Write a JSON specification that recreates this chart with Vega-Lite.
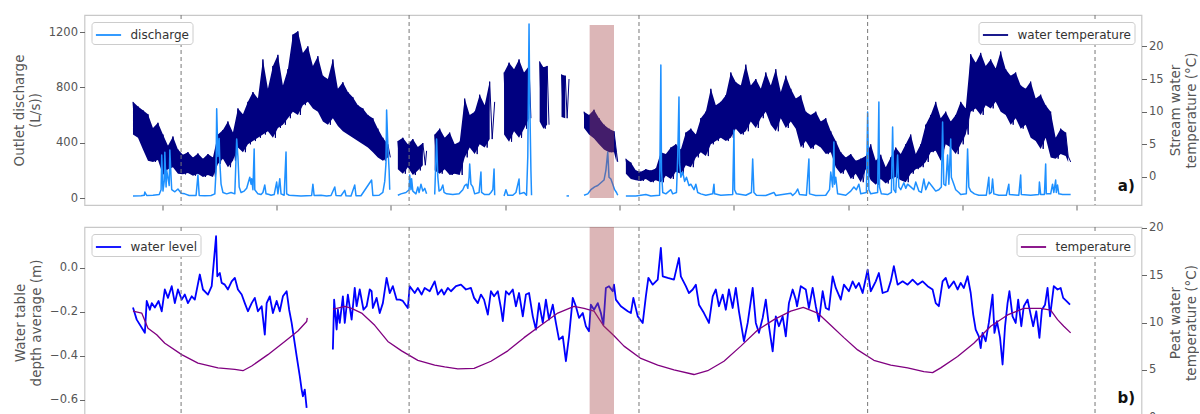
{
"$schema": "https://vega.github.io/schema/vega-lite/v6.json",
"background": "white",
"padding": {"top": 13, "left": 11.5, "right": 0, "bottom": 0},
"config": {
  "font": "DejaVu Sans",
  "view": {"stroke": "#c8c8c8", "strokeWidth": 1.2},
  "line": {"strokeJoin": "round", "strokeCap": "butt"},
  "axis": {"grid": false, "domain": false, "labelFont": "DejaVu Sans", "labelFontSize": 11.5, "labelColor": "#555", "titleFont": "DejaVu Sans", "titleFontSize": 13.5, "titleFontWeight": "normal", "titleColor": "#555", "tickColor": "#666", "tickSize": 5, "labelPadding": 2, "titlePadding": 6, "titleLineHeight": 16, "labelOverlap": false, "labelFlush": false},
  "legend": {"offset": 7, "fillColor": "white", "strokeColor": "#cccccc", "padding": 3, "cornerRadius": 3, "labelFont": "DejaVu Sans", "labelFontSize": 12, "labelColor": "#333", "symbolType": "M-1.4,0H1.4", "symbolSize": 324, "symbolStrokeWidth": 1.8, "symbolOffset": 4, "labelOffset": 12}
},
"datasets": {
"wt": [
{"s":1,"t":-48,"v":11.5},{"s":1,"t":-44,"v":6.5},{"s":1,"t":-40,"v":10.8},{"s":1,"t":-36,"v":6},{"s":1,"t":-32,"v":10.2},{"s":1,"t":-28,"v":4.2},{"s":1,"t":-24,"v":9.6},{"s":1,"t":-20,"v":2.5},{"s":1,"t":-16,"v":7.5},{"s":1,"t":-12,"v":2.3},{"s":1,"t":-8,"v":8.3},{"s":1,"t":-4,"v":2.6},{"s":1,"t":0,"v":6.5},{"s":1,"t":4,"v":0.3},{"s":1,"t":8,"v":4.8},{"s":1,"t":12,"v":1.2},{"s":1,"t":16,"v":6.2},{"s":1,"t":20,"v":1.5},{"s":1,"t":24,"v":4.2},{"s":1,"t":28,"v":0.5},{"s":1,"t":32,"v":3.4},{"s":1,"t":36,"v":0.4},{"s":1,"t":40,"v":3.8},{"s":1,"t":44,"v":0.6},{"s":1,"t":48,"v":3.0},{"s":1,"t":52,"v":0.2},{"s":1,"t":56,"v":3.6},{"s":1,"t":60,"v":0.5},{"s":1,"t":64,"v":2.8},{"s":1,"t":68,"v":0},{"s":1,"t":72,"v":3.5},{"s":1,"t":76,"v":0.3},{"s":1,"t":80,"v":3.0},{"s":1,"t":84,"v":0},{"s":1,"t":88,"v":6.5},{"s":1,"t":92,"v":2},{"s":1,"t":96,"v":7.2},{"s":1,"t":100,"v":2.8},{"s":1,"t":104,"v":8.5},{"s":1,"t":108,"v":1.5},{"s":1,"t":112,"v":6.8},{"s":1,"t":116,"v":2.5},{"s":1,"t":120,"v":10.5},{"s":1,"t":124,"v":4.5},{"s":1,"t":128,"v":9.6},{"s":1,"t":132,"v":3.8},{"s":1,"t":136,"v":11.5},{"s":1,"t":140,"v":5},{"s":1,"t":144,"v":13},{"s":1,"t":148,"v":5.5},{"s":1,"t":152,"v":12},{"s":1,"t":156,"v":6},{"s":1,"t":160,"v":18},{"s":1,"t":164,"v":6.5},{"s":1,"t":168,"v":13.5},{"s":1,"t":172,"v":7},{"s":1,"t":176,"v":17},{"s":1,"t":180,"v":6},{"s":1,"t":184,"v":18.7},{"s":1,"t":188,"v":7.5},{"s":1,"t":192,"v":14},{"s":1,"t":196,"v":8},{"s":1,"t":200,"v":16.5},{"s":1,"t":204,"v":9},{"s":1,"t":208,"v":21.8},{"s":1,"t":212,"v":10},{"s":1,"t":216,"v":22.3},{"s":1,"t":220,"v":9.5},{"s":1,"t":224,"v":19},{"s":1,"t":228,"v":11},{"s":1,"t":232,"v":20},{"s":1,"t":236,"v":11.5},{"s":1,"t":240,"v":17},{"s":1,"t":244,"v":10.5},{"s":1,"t":248,"v":18.5},{"s":1,"t":252,"v":10},{"s":1,"t":256,"v":15.5},{"s":1,"t":260,"v":8.5},{"s":1,"t":264,"v":15},{"s":1,"t":268,"v":8},{"s":1,"t":272,"v":18},{"s":1,"t":276,"v":9},{"s":1,"t":280,"v":13.5},{"s":1,"t":284,"v":7.8},{"s":1,"t":288,"v":14.5},{"s":1,"t":292,"v":7},{"s":1,"t":296,"v":13},{"s":1,"t":300,"v":6.5},{"s":1,"t":304,"v":12.2},{"s":1,"t":308,"v":6},{"s":1,"t":312,"v":11},{"s":1,"t":316,"v":5.5},{"s":1,"t":320,"v":10.5},{"s":1,"t":324,"v":5},{"s":1,"t":328,"v":9.5},{"s":1,"t":332,"v":4.5},{"s":1,"t":336,"v":9},{"s":1,"t":340,"v":3.8},{"s":1,"t":344,"v":7.4},{"s":1,"t":348,"v":3},{"s":1,"t":352,"v":6},{"s":1,"t":356,"v":2.5},{"s":1,"t":360,"v":5},{"s":1,"t":364,"v":3},
{"s":2,"t":376,"v":5.5},{"s":2,"t":380,"v":1.2},{"s":2,"t":384,"v":6},{"s":2,"t":388,"v":0.5},{"s":2,"t":392,"v":5},{"s":2,"t":396,"v":1.5},{"s":2,"t":400,"v":5.8},{"s":2,"t":404,"v":0.3},{"s":2,"t":408,"v":4.6},{"s":2,"t":412,"v":1},{"s":2,"t":416,"v":5.2},{"s":2,"t":420,"v":1.8},{"s":2,"t":422,"v":4},
{"s":3,"t":435,"v":6.5},{"s":3,"t":439,"v":1},{"s":3,"t":443,"v":7.4},{"s":3,"t":447,"v":0.5},{"s":3,"t":451,"v":6},{"s":3,"t":455,"v":1.2},{"s":3,"t":459,"v":6.8},{"s":3,"t":463,"v":0.3},{"s":3,"t":467,"v":5},{"s":3,"t":471,"v":0.5},{"s":3,"t":475,"v":5.4},{"s":3,"t":479,"v":0.3},{"s":3,"t":483,"v":12},{"s":3,"t":487,"v":3},{"s":3,"t":491,"v":9.5},{"s":3,"t":495,"v":4.5},{"s":3,"t":499,"v":10},{"s":3,"t":503,"v":3.5},{"s":3,"t":507,"v":12.6},{"s":3,"t":511,"v":5},{"s":3,"t":515,"v":11},{"s":3,"t":519,"v":4.5},{"s":3,"t":523,"v":14.6},{"s":3,"t":527,"v":5.8},{"s":3,"t":531,"v":11.5},
{"s":4,"t":546,"v":16},{"s":4,"t":550,"v":6.5},{"s":4,"t":554,"v":17.5},{"s":4,"t":558,"v":5.4},{"s":4,"t":562,"v":16.5},{"s":4,"t":566,"v":7},{"s":4,"t":570,"v":18},{"s":4,"t":574,"v":6},{"s":4,"t":578,"v":16},{"s":4,"t":582,"v":7.4},{"s":4,"t":586,"v":17},{"s":4,"t":589,"v":9},
{"s":5,"t":603,"v":17.7},{"s":5,"t":606,"v":8.5},{"s":5,"t":609,"v":16.8},{"s":5,"t":612,"v":7.4},{"s":5,"t":615,"v":17},{"s":5,"t":618,"v":8},
{"s":6,"t":638,"v":15.7},{"s":6,"t":641,"v":9.2},{"s":6,"t":644,"v":15.5},{"s":6,"t":647,"v":9},{"s":6,"t":650,"v":15},
{"s":7,"t":674,"v":10},{"s":7,"t":678,"v":7.5},{"s":7,"t":682,"v":9.5},{"s":7,"t":686,"v":6.5},{"s":7,"t":690,"v":10.3},{"s":7,"t":694,"v":5.9},{"s":7,"t":698,"v":9},{"s":7,"t":702,"v":5},{"s":7,"t":706,"v":8},{"s":7,"t":710,"v":4.2},{"s":7,"t":714,"v":7.4},{"s":7,"t":718,"v":3.8},{"s":7,"t":722,"v":7},{"s":7,"t":726,"v":3.8},{"s":7,"t":728,"v":2.3},
{"s":8,"t":741,"v":2.8},{"s":8,"t":745,"v":0.5},{"s":8,"t":749,"v":2.2},{"s":8,"t":753,"v":-0.3},{"s":8,"t":757,"v":1.0},{"s":8,"t":761,"v":-0.5},{"s":8,"t":765,"v":0.8},{"s":8,"t":769,"v":-0.6},{"s":8,"t":773,"v":1.2},{"s":8,"t":777,"v":-0.3},{"s":8,"t":781,"v":1.0},{"s":8,"t":785,"v":-0.8},{"s":8,"t":789,"v":1.3},{"s":8,"t":793,"v":-0.5},{"s":8,"t":797,"v":3.8},{"s":8,"t":801,"v":-0.8},{"s":8,"t":805,"v":3.5},{"s":8,"t":809,"v":0.2},{"s":8,"t":813,"v":4.5},{"s":8,"t":817,"v":-0.3},{"s":8,"t":821,"v":5},{"s":8,"t":825,"v":0.8},{"s":8,"t":829,"v":4.2},{"s":8,"t":833,"v":0.5},{"s":8,"t":837,"v":6.8},{"s":8,"t":841,"v":1.8},{"s":8,"t":845,"v":7.4},{"s":8,"t":849,"v":1.5},{"s":8,"t":853,"v":6.5},{"s":8,"t":857,"v":3},{"s":8,"t":861,"v":9},{"s":8,"t":865,"v":3.8},{"s":8,"t":869,"v":10},{"s":8,"t":873,"v":3.2},{"s":8,"t":877,"v":13.5},{"s":8,"t":881,"v":5},{"s":8,"t":885,"v":11},{"s":8,"t":889,"v":5.5},{"s":8,"t":893,"v":11.5},{"s":8,"t":897,"v":6},{"s":8,"t":901,"v":12.5},{"s":8,"t":905,"v":5.5},{"s":8,"t":909,"v":16},{"s":8,"t":913,"v":6},{"s":8,"t":917,"v":14.5},{"s":8,"t":921,"v":7.4},{"s":8,"t":925,"v":14},{"s":8,"t":929,"v":6.5},{"s":8,"t":933,"v":17.2},{"s":8,"t":937,"v":7},{"s":8,"t":941,"v":14},{"s":8,"t":945,"v":8.5},{"s":8,"t":949,"v":15},{"s":8,"t":953,"v":7.5},{"s":8,"t":957,"v":13.5},{"s":8,"t":961,"v":9},{"s":8,"t":965,"v":16},{"s":8,"t":969,"v":10},{"s":8,"t":973,"v":14},{"s":8,"t":977,"v":8},{"s":8,"t":981,"v":16.5},{"s":8,"t":985,"v":7},{"s":8,"t":989,"v":13},{"s":8,"t":993,"v":9},{"s":8,"t":997,"v":15.5},{"s":8,"t":1001,"v":7.5},{"s":8,"t":1005,"v":13.5},{"s":8,"t":1009,"v":8.5},{"s":8,"t":1013,"v":12},{"s":8,"t":1017,"v":7.4},{"s":8,"t":1021,"v":12.5},{"s":8,"t":1025,"v":4.5},{"s":8,"t":1029,"v":10},{"s":8,"t":1033,"v":5.5},{"s":8,"t":1037,"v":9.5},{"s":8,"t":1041,"v":4.3},{"s":8,"t":1045,"v":10},{"s":8,"t":1049,"v":5},{"s":8,"t":1053,"v":8.5},{"s":8,"t":1057,"v":4.5},{"s":8,"t":1061,"v":9},{"s":8,"t":1065,"v":3.5},{"s":8,"t":1069,"v":7},{"s":8,"t":1073,"v":3.8},{"s":8,"t":1077,"v":5.5},{"s":8,"t":1081,"v":1.5},{"s":8,"t":1085,"v":3.8},{"s":8,"t":1089,"v":0.5},{"s":8,"t":1093,"v":3},{"s":8,"t":1097,"v":1.2},{"s":8,"t":1101,"v":3.5},{"s":8,"t":1105,"v":-0.3},{"s":8,"t":1109,"v":2.5},{"s":8,"t":1113,"v":0.5},{"s":8,"t":1117,"v":2.8},{"s":8,"t":1121,"v":-0.8},{"s":8,"t":1125,"v":3.2},{"s":8,"t":1129,"v":1.2},{"s":8,"t":1133,"v":5},{"s":8,"t":1137,"v":-0.5},{"s":8,"t":1141,"v":2.5},{"s":8,"t":1145,"v":-1.2},{"s":8,"t":1149,"v":3.4},{"s":8,"t":1153,"v":-0.3},{"s":8,"t":1157,"v":1.5},{"s":8,"t":1161,"v":-1},{"s":8,"t":1165,"v":3},{"s":8,"t":1169,"v":-0.3},{"s":8,"t":1173,"v":4.5},{"s":8,"t":1177,"v":0},{"s":8,"t":1181,"v":3.5},{"s":8,"t":1185,"v":-0.5},{"s":8,"t":1189,"v":5},{"s":8,"t":1193,"v":-0.8},{"s":8,"t":1197,"v":6.5},{"s":8,"t":1201,"v":0.5},{"s":8,"t":1205,"v":3.5},{"s":8,"t":1209,"v":1.2},{"s":8,"t":1213,"v":5},{"s":8,"t":1217,"v":1.5},{"s":8,"t":1221,"v":8},{"s":8,"t":1225,"v":2.3},{"s":8,"t":1229,"v":9.5},{"s":8,"t":1233,"v":3.8},{"s":8,"t":1237,"v":11.5},{"s":8,"t":1241,"v":4},{"s":8,"t":1245,"v":9},{"s":8,"t":1249,"v":2.5},{"s":8,"t":1253,"v":10},{"s":8,"t":1257,"v":5},{"s":8,"t":1261,"v":8.5},{"s":8,"t":1265,"v":4.5},{"s":8,"t":1269,"v":9.5},{"s":8,"t":1273,"v":3.5},{"s":8,"t":1277,"v":11.5},{"s":8,"t":1281,"v":5},{"s":8,"t":1285,"v":10.5},{"s":8,"t":1289,"v":6.5},{"s":8,"t":1293,"v":18.8},{"s":8,"t":1297,"v":10},{"s":8,"t":1301,"v":17.5},{"s":8,"t":1305,"v":10.5},{"s":8,"t":1309,"v":19},{"s":8,"t":1313,"v":9.5},{"s":8,"t":1317,"v":17},{"s":8,"t":1321,"v":11},{"s":8,"t":1325,"v":18},{"s":8,"t":1329,"v":10.5},{"s":8,"t":1333,"v":16.6},{"s":8,"t":1337,"v":11.5},{"s":8,"t":1341,"v":19.2},{"s":8,"t":1345,"v":10},{"s":8,"t":1349,"v":16.5},{"s":8,"t":1353,"v":9.5},{"s":8,"t":1357,"v":15.5},{"s":8,"t":1361,"v":8},{"s":8,"t":1365,"v":16},{"s":8,"t":1369,"v":9},{"s":8,"t":1373,"v":14},{"s":8,"t":1377,"v":7.4},{"s":8,"t":1381,"v":13.5},{"s":8,"t":1385,"v":8},{"s":8,"t":1389,"v":14.6},{"s":8,"t":1393,"v":6},{"s":8,"t":1397,"v":12},{"s":8,"t":1401,"v":5.5},{"s":8,"t":1405,"v":12.6},{"s":8,"t":1409,"v":4.3},{"s":8,"t":1413,"v":11},{"s":8,"t":1417,"v":6},{"s":8,"t":1421,"v":10},{"s":8,"t":1425,"v":3},{"s":8,"t":1429,"v":6},{"s":8,"t":1433,"v":2.8},{"s":8,"t":1437,"v":7.4},{"s":8,"t":1441,"v":3.5},{"s":8,"t":1445,"v":6.8},{"s":8,"t":1449,"v":3.2},{"s":8,"t":1453,"v":2.3}
],
"q": [
{"s":1,"t":-48,"v":14},{"s":1,"t":-35,"v":16},{"s":1,"t":-30,"v":20},{"s":1,"t":-29,"v":43},{"s":1,"t":-26,"v":18},{"s":1,"t":-16,"v":20},{"s":1,"t":-6,"v":25},{"s":1,"t":-3,"v":60},{"s":1,"t":-2,"v":310},{"s":1,"t":0,"v":50},{"s":1,"t":2,"v":120},{"s":1,"t":3,"v":330},{"s":1,"t":5,"v":80},{"s":1,"t":6,"v":200},{"s":1,"t":10,"v":90},{"s":1,"t":11,"v":347},{"s":1,"t":13,"v":150},{"s":1,"t":14,"v":60},{"s":1,"t":19,"v":45},{"s":1,"t":24,"v":65},{"s":1,"t":29,"v":35},{"s":1,"t":35,"v":30},{"s":1,"t":42,"v":18},{"s":1,"t":53,"v":18},{"s":1,"t":56,"v":166},{"s":1,"t":58,"v":18},{"s":1,"t":67,"v":16},{"s":1,"t":77,"v":18},{"s":1,"t":83,"v":30},{"s":1,"t":85,"v":200},{"s":1,"t":86,"v":645},{"s":1,"t":88,"v":300},{"s":1,"t":90,"v":430},{"s":1,"t":91,"v":260},{"s":1,"t":93,"v":100},{"s":1,"t":96,"v":40},{"s":1,"t":102,"v":30},{"s":1,"t":109,"v":40},{"s":1,"t":115,"v":30},{"s":1,"t":118,"v":427},{"s":1,"t":120,"v":300},{"s":1,"t":122,"v":80},{"s":1,"t":125,"v":40},{"s":1,"t":130,"v":50},{"s":1,"t":134,"v":70},{"s":1,"t":139,"v":150},{"s":1,"t":141,"v":100},{"s":1,"t":142,"v":140},{"s":1,"t":144,"v":60},{"s":1,"t":146,"v":355},{"s":1,"t":147,"v":60},{"s":1,"t":152,"v":30},{"s":1,"t":157,"v":25},{"s":1,"t":160,"v":40},{"s":1,"t":163,"v":94},{"s":1,"t":165,"v":30},{"s":1,"t":170,"v":25},{"s":1,"t":173,"v":20},{"s":1,"t":178,"v":25},{"s":1,"t":182,"v":115},{"s":1,"t":184,"v":30},{"s":1,"t":187,"v":140},{"s":1,"t":189,"v":30},{"s":1,"t":194,"v":20},{"s":1,"t":197,"v":332},{"s":1,"t":198,"v":30},{"s":1,"t":202,"v":20},{"s":1,"t":221,"v":15},{"s":1,"t":238,"v":18},{"s":1,"t":240,"v":100},{"s":1,"t":242,"v":18},{"s":1,"t":253,"v":20},{"s":1,"t":262,"v":15},{"s":1,"t":269,"v":18},{"s":1,"t":275,"v":80},{"s":1,"t":277,"v":18},{"s":1,"t":285,"v":16},{"s":1,"t":291,"v":55},{"s":1,"t":293,"v":16},{"s":1,"t":301,"v":15},{"s":1,"t":307,"v":94},{"s":1,"t":309,"v":16},{"s":1,"t":317,"v":16},{"s":1,"t":334,"v":130},{"s":1,"t":336,"v":18},{"s":1,"t":346,"v":20},{"s":1,"t":352,"v":40},{"s":1,"t":355,"v":120},{"s":1,"t":357,"v":250},{"s":1,"t":358,"v":636},{"s":1,"t":360,"v":380},{"s":1,"t":362,"v":200},{"s":1,"t":363,"v":60},
{"s":2,"t":376,"v":20},{"s":2,"t":381,"v":30},{"s":2,"t":389,"v":40},{"s":2,"t":394,"v":60},{"s":2,"t":395,"v":166},{"s":2,"t":397,"v":60},{"s":2,"t":398,"v":140},{"s":2,"t":400,"v":50},{"s":2,"t":405,"v":30},{"s":2,"t":408,"v":80},{"s":2,"t":410,"v":40},{"s":2,"t":413,"v":100},{"s":2,"t":416,"v":50},{"s":2,"t":419,"v":70},{"s":2,"t":422,"v":30},
{"s":3,"t":435,"v":25},{"s":3,"t":438,"v":427},{"s":3,"t":440,"v":150},{"s":3,"t":442,"v":50},{"s":3,"t":445,"v":60},{"s":3,"t":448,"v":94},{"s":3,"t":450,"v":40},{"s":3,"t":454,"v":30},{"s":3,"t":464,"v":25},{"s":3,"t":474,"v":30},{"s":3,"t":480,"v":60},{"s":3,"t":483,"v":90},{"s":3,"t":486,"v":100},{"s":3,"t":488,"v":70},{"s":3,"t":490,"v":150},{"s":3,"t":491,"v":246},{"s":3,"t":493,"v":100},{"s":3,"t":496,"v":80},{"s":3,"t":499,"v":30},{"s":3,"t":506,"v":40},{"s":3,"t":509,"v":188},{"s":3,"t":510,"v":40},{"s":3,"t":515,"v":25},{"s":3,"t":522,"v":25},{"s":3,"t":525,"v":40},{"s":3,"t":528,"v":60},{"s":3,"t":530,"v":210},{"s":3,"t":531,"v":20},
{"s":4,"t":546,"v":15},{"s":4,"t":549,"v":60},{"s":4,"t":552,"v":20},{"s":4,"t":560,"v":20},{"s":4,"t":565,"v":40},{"s":4,"t":570,"v":137},{"s":4,"t":571,"v":30},{"s":4,"t":578,"v":40},{"s":4,"t":582,"v":20},{"s":4,"t":584,"v":300},{"s":4,"t":586,"v":1258},{"s":4,"t":587,"v":745},{"s":4,"t":589,"v":200},{"s":4,"t":590,"v":20},
{"s":5,"t":646,"v":15},{"s":5,"t":650,"v":15},
{"s":6,"t":674,"v":20},{"s":6,"t":680,"v":30},{"s":6,"t":685,"v":60},{"s":6,"t":691,"v":80},{"s":6,"t":696,"v":90},{"s":6,"t":701,"v":110},{"s":6,"t":706,"v":130},{"s":6,"t":709,"v":200},{"s":6,"t":712,"v":332},{"s":6,"t":714,"v":150},{"s":6,"t":717,"v":137},{"s":6,"t":720,"v":100},{"s":6,"t":723,"v":60},{"s":6,"t":726,"v":40},{"s":6,"t":728,"v":20},
{"s":7,"t":741,"v":15},{"s":7,"t":757,"v":15},{"s":7,"t":773,"v":25},{"s":7,"t":781,"v":15},{"s":7,"t":795,"v":20},{"s":7,"t":797,"v":962},{"s":7,"t":798,"v":200},{"s":7,"t":800,"v":40},{"s":7,"t":805,"v":30},{"s":7,"t":813,"v":60},{"s":7,"t":816,"v":30},{"s":7,"t":822,"v":40},{"s":7,"t":824,"v":300},{"s":7,"t":826,"v":730},{"s":7,"t":827,"v":250},{"s":7,"t":829,"v":150},{"s":7,"t":832,"v":188},{"s":7,"t":835,"v":120},{"s":7,"t":838,"v":150},{"s":7,"t":842,"v":90},{"s":7,"t":845,"v":100},{"s":7,"t":850,"v":60},{"s":7,"t":853,"v":100},{"s":7,"t":856,"v":40},{"s":7,"t":861,"v":30},{"s":7,"t":869,"v":20},{"s":7,"t":880,"v":30},{"s":7,"t":882,"v":100},{"s":7,"t":883,"v":30},{"s":7,"t":893,"v":20},{"s":7,"t":912,"v":25},{"s":7,"t":914,"v":490},{"s":7,"t":915,"v":60},{"s":7,"t":918,"v":30},{"s":7,"t":933,"v":20},{"s":7,"t":942,"v":40},{"s":7,"t":944,"v":282},{"s":7,"t":946,"v":40},{"s":7,"t":950,"v":20},{"s":7,"t":965,"v":18},{"s":7,"t":978,"v":40},{"s":7,"t":981,"v":18},{"s":7,"t":1005,"v":35},{"s":7,"t":1008,"v":18},{"s":7,"t":1013,"v":40},{"s":7,"t":1016,"v":65},{"s":7,"t":1019,"v":25},{"s":7,"t":1030,"v":20},{"s":7,"t":1034,"v":282},{"s":7,"t":1035,"v":30},{"s":7,"t":1045,"v":18},{"s":7,"t":1061,"v":20},{"s":7,"t":1067,"v":60},{"s":7,"t":1069,"v":188},{"s":7,"t":1072,"v":80},{"s":7,"t":1074,"v":405},{"s":7,"t":1075,"v":100},{"s":7,"t":1077,"v":150},{"s":7,"t":1080,"v":30},{"s":7,"t":1093,"v":20},{"s":7,"t":1101,"v":50},{"s":7,"t":1106,"v":80},{"s":7,"t":1110,"v":60},{"s":7,"t":1114,"v":100},{"s":7,"t":1117,"v":30},{"s":7,"t":1126,"v":40},{"s":7,"t":1128,"v":622},{"s":7,"t":1130,"v":60},{"s":7,"t":1133,"v":30},{"s":7,"t":1144,"v":40},{"s":7,"t":1146,"v":694},{"s":7,"t":1147,"v":80},{"s":7,"t":1150,"v":30},{"s":7,"t":1160,"v":25},{"s":7,"t":1166,"v":40},{"s":7,"t":1168,"v":513},{"s":7,"t":1170,"v":60},{"s":7,"t":1173,"v":40},{"s":7,"t":1176,"v":310},{"s":7,"t":1178,"v":80},{"s":7,"t":1181,"v":60},{"s":7,"t":1186,"v":110},{"s":7,"t":1189,"v":70},{"s":7,"t":1192,"v":100},{"s":7,"t":1197,"v":80},{"s":7,"t":1202,"v":60},{"s":7,"t":1205,"v":115},{"s":7,"t":1210,"v":50},{"s":7,"t":1214,"v":40},{"s":7,"t":1218,"v":137},{"s":7,"t":1221,"v":60},{"s":7,"t":1226,"v":115},{"s":7,"t":1232,"v":80},{"s":7,"t":1237,"v":50},{"s":7,"t":1242,"v":60},{"s":7,"t":1246,"v":80},{"s":7,"t":1248,"v":550},{"s":7,"t":1250,"v":100},{"s":7,"t":1253,"v":90},{"s":7,"t":1256,"v":310},{"s":7,"t":1258,"v":100},{"s":7,"t":1261,"v":427},{"s":7,"t":1262,"v":150},{"s":7,"t":1266,"v":100},{"s":7,"t":1269,"v":60},{"s":7,"t":1274,"v":40},{"s":7,"t":1277,"v":25},{"s":7,"t":1286,"v":30},{"s":7,"t":1288,"v":355},{"s":7,"t":1290,"v":80},{"s":7,"t":1293,"v":50},{"s":7,"t":1299,"v":30},{"s":7,"t":1306,"v":20},{"s":7,"t":1318,"v":20},{"s":7,"t":1322,"v":150},{"s":7,"t":1323,"v":30},{"s":7,"t":1326,"v":40},{"s":7,"t":1328,"v":137},{"s":7,"t":1330,"v":30},{"s":7,"t":1338,"v":20},{"s":7,"t":1350,"v":20},{"s":7,"t":1354,"v":100},{"s":7,"t":1355,"v":25},{"s":7,"t":1370,"v":20},{"s":7,"t":1373,"v":166},{"s":7,"t":1374,"v":25},{"s":7,"t":1389,"v":20},{"s":7,"t":1402,"v":25},{"s":7,"t":1403,"v":115},{"s":7,"t":1405,"v":25},{"s":7,"t":1411,"v":25},{"s":7,"t":1413,"v":246},{"s":7,"t":1414,"v":30},{"s":7,"t":1421,"v":30},{"s":7,"t":1424,"v":100},{"s":7,"t":1426,"v":40},{"s":7,"t":1429,"v":130},{"s":7,"t":1430,"v":40},{"s":7,"t":1432,"v":94},{"s":7,"t":1434,"v":30},{"s":7,"t":1440,"v":25},{"s":7,"t":1453,"v":25}
],
"wl": [
{"s":1,"t":-48,"v":-0.18},{"s":1,"t":-42,"v":-0.235},{"s":1,"t":-29,"v":-0.295},{"s":1,"t":-26,"v":-0.15},{"s":1,"t":-21,"v":-0.19},{"s":1,"t":-18,"v":-0.16},{"s":1,"t":-13,"v":-0.18},{"s":1,"t":-7,"v":-0.15},{"s":1,"t":-2,"v":-0.197},{"s":1,"t":3,"v":-0.098},{"s":1,"t":8,"v":-0.136},{"s":1,"t":14,"v":-0.083},{"s":1,"t":19,"v":-0.16},{"s":1,"t":24,"v":-0.098},{"s":1,"t":30,"v":-0.144},{"s":1,"t":35,"v":-0.121},{"s":1,"t":40,"v":-0.16},{"s":1,"t":46,"v":-0.129},{"s":1,"t":51,"v":-0.144},{"s":1,"t":59,"v":-0.03},{"s":1,"t":64,"v":-0.098},{"s":1,"t":72,"v":-0.121},{"s":1,"t":78,"v":-0.083},{"s":1,"t":85,"v":0.144},{"s":1,"t":87,"v":-0.038},{"s":1,"t":91,"v":-0.023},{"s":1,"t":94,"v":-0.068},{"s":1,"t":99,"v":-0.076},{"s":1,"t":104,"v":-0.098},{"s":1,"t":110,"v":-0.061},{"s":1,"t":115,"v":-0.045},{"s":1,"t":120,"v":-0.098},{"s":1,"t":126,"v":-0.121},{"s":1,"t":131,"v":-0.16},{"s":1,"t":136,"v":-0.197},{"s":1,"t":142,"v":-0.16},{"s":1,"t":147,"v":-0.136},{"s":1,"t":152,"v":-0.197},{"s":1,"t":158,"v":-0.174},{"s":1,"t":163,"v":-0.303},{"s":1,"t":166,"v":-0.16},{"s":1,"t":171,"v":-0.129},{"s":1,"t":176,"v":-0.205},{"s":1,"t":182,"v":-0.15},{"s":1,"t":187,"v":-0.197},{"s":1,"t":192,"v":-0.129},{"s":1,"t":198,"v":-0.106},{"s":1,"t":202,"v":-0.19},{"s":1,"t":206,"v":-0.25},{"s":1,"t":214,"v":-0.401},{"s":1,"t":219,"v":-0.492},{"s":1,"t":222,"v":-0.553},{"s":1,"t":224,"v":-0.583},{"s":1,"t":227,"v":-0.553},{"s":1,"t":230,"v":-0.636},
{"s":2,"t":272,"v":-0.371},{"s":2,"t":274,"v":-0.144},{"s":2,"t":278,"v":-0.28},{"s":2,"t":280,"v":-0.19},{"s":2,"t":283,"v":-0.25},{"s":2,"t":288,"v":-0.129},{"s":2,"t":291,"v":-0.25},{"s":2,"t":296,"v":-0.121},{"s":2,"t":302,"v":-0.235},{"s":2,"t":307,"v":-0.091},{"s":2,"t":310,"v":-0.174},{"s":2,"t":315,"v":-0.098},{"s":2,"t":321,"v":-0.19},{"s":2,"t":326,"v":-0.174},{"s":2,"t":331,"v":-0.098},{"s":2,"t":334,"v":-0.106},{"s":2,"t":336,"v":-0.182},{"s":2,"t":342,"v":-0.136},{"s":2,"t":347,"v":-0.205},{"s":2,"t":352,"v":-0.16},{"s":2,"t":358,"v":-0.045},{"s":2,"t":363,"v":-0.114},{"s":2,"t":368,"v":-0.083},{"s":2,"t":374,"v":-0.144},{"s":2,"t":379,"v":-0.144},{"s":2,"t":384,"v":-0.15},{"s":2,"t":392,"v":-0.182},{"s":2,"t":395,"v":-0.083},{"s":2,"t":403,"v":-0.114},{"s":2,"t":408,"v":-0.091},{"s":2,"t":414,"v":-0.121},{"s":2,"t":419,"v":-0.091},{"s":2,"t":427,"v":-0.106},{"s":2,"t":435,"v":-0.061},{"s":2,"t":440,"v":-0.121},{"s":2,"t":446,"v":-0.098},{"s":2,"t":450,"v":-0.121},{"s":2,"t":456,"v":-0.091},{"s":2,"t":461,"v":-0.106},{"s":2,"t":469,"v":-0.083},{"s":2,"t":477,"v":-0.076},{"s":2,"t":485,"v":-0.098},{"s":2,"t":493,"v":-0.091},{"s":2,"t":498,"v":-0.136},{"s":2,"t":504,"v":-0.16},{"s":2,"t":509,"v":-0.121},{"s":2,"t":514,"v":-0.144},{"s":2,"t":520,"v":-0.212},{"s":2,"t":525,"v":-0.106},{"s":2,"t":530,"v":-0.129},{"s":2,"t":536,"v":-0.106},{"s":2,"t":541,"v":-0.182},{"s":2,"t":544,"v":-0.242},{"s":2,"t":549,"v":-0.106},{"s":2,"t":554,"v":-0.121},{"s":2,"t":560,"v":-0.098},{"s":2,"t":565,"v":-0.174},{"s":2,"t":570,"v":-0.114},{"s":2,"t":576,"v":-0.22},{"s":2,"t":581,"v":-0.121},{"s":2,"t":586,"v":-0.114},{"s":2,"t":592,"v":-0.22},{"s":2,"t":597,"v":-0.28},{"s":2,"t":602,"v":-0.16},{"s":2,"t":608,"v":-0.25},{"s":2,"t":613,"v":-0.144},{"s":2,"t":618,"v":-0.235},{"s":2,"t":624,"v":-0.167},{"s":2,"t":629,"v":-0.25},{"s":2,"t":634,"v":-0.326},{"s":2,"t":640,"v":-0.311},{"s":2,"t":645,"v":-0.424},{"s":2,"t":650,"v":-0.311},{"s":2,"t":656,"v":-0.136},{"s":2,"t":661,"v":-0.174},{"s":2,"t":666,"v":-0.227},{"s":2,"t":672,"v":-0.205},{"s":2,"t":677,"v":-0.265},{"s":2,"t":682,"v":-0.288},{"s":2,"t":685,"v":-0.167},{"s":2,"t":690,"v":-0.19},{"s":2,"t":696,"v":-0.16},{"s":2,"t":701,"v":-0.205},{"s":2,"t":705,"v":-0.258},{"s":2,"t":709,"v":-0.091},{"s":2,"t":714,"v":-0.083},{"s":2,"t":720,"v":-0.106},{"s":2,"t":722,"v":-0.076},{"s":2,"t":725,"v":-0.144},{"s":2,"t":733,"v":-0.174},{"s":2,"t":744,"v":-0.197},{"s":2,"t":749,"v":-0.205},{"s":2,"t":753,"v":-0.136},{"s":2,"t":760,"v":-0.22},{"s":2,"t":768,"v":-0.25},{"s":2,"t":773,"v":-0.129},{"s":2,"t":777,"v":-0.045},{"s":2,"t":784,"v":-0.076},{"s":2,"t":792,"v":-0.053},{"s":2,"t":797,"v":0.091},{"s":2,"t":800,"v":-0.038},{"s":2,"t":808,"v":-0.045},{"s":2,"t":818,"v":-0.053},{"s":2,"t":826,"v":0.045},{"s":2,"t":829,"v":-0.038},{"s":2,"t":837,"v":-0.083},{"s":2,"t":842,"v":-0.114},{"s":2,"t":848,"v":-0.098},{"s":2,"t":853,"v":-0.076},{"s":2,"t":858,"v":-0.167},{"s":2,"t":866,"v":-0.205},{"s":2,"t":874,"v":-0.25},{"s":2,"t":880,"v":-0.129},{"s":2,"t":885,"v":-0.098},{"s":2,"t":890,"v":-0.174},{"s":2,"t":896,"v":-0.121},{"s":2,"t":901,"v":-0.19},{"s":2,"t":906,"v":-0.098},{"s":2,"t":912,"v":-0.182},{"s":2,"t":917,"v":-0.091},{"s":2,"t":922,"v":-0.197},{"s":2,"t":930,"v":-0.333},{"s":2,"t":936,"v":-0.25},{"s":2,"t":944,"v":-0.091},{"s":2,"t":949,"v":-0.25},{"s":2,"t":954,"v":-0.295},{"s":2,"t":960,"v":-0.227},{"s":2,"t":965,"v":-0.144},{"s":2,"t":970,"v":-0.265},{"s":2,"t":976,"v":-0.379},{"s":2,"t":981,"v":-0.22},{"s":2,"t":986,"v":-0.265},{"s":2,"t":992,"v":-0.22},{"s":2,"t":997,"v":-0.311},{"s":2,"t":1002,"v":-0.16},{"s":2,"t":1008,"v":-0.098},{"s":2,"t":1013,"v":-0.144},{"s":2,"t":1015,"v":-0.174},{"s":2,"t":1021,"v":-0.083},{"s":2,"t":1029,"v":-0.098},{"s":2,"t":1034,"v":-0.182},{"s":2,"t":1040,"v":-0.091},{"s":2,"t":1045,"v":-0.174},{"s":2,"t":1050,"v":-0.242},{"s":2,"t":1056,"v":-0.106},{"s":2,"t":1061,"v":-0.182},{"s":2,"t":1066,"v":-0.19},{"s":2,"t":1072,"v":-0.038},{"s":2,"t":1077,"v":-0.091},{"s":2,"t":1085,"v":-0.144},{"s":2,"t":1090,"v":-0.076},{"s":2,"t":1098,"v":-0.106},{"s":2,"t":1104,"v":-0.061},{"s":2,"t":1109,"v":-0.091},{"s":2,"t":1114,"v":-0.068},{"s":2,"t":1120,"v":-0.114},{"s":2,"t":1128,"v":-0.008},{"s":2,"t":1133,"v":-0.106},{"s":2,"t":1141,"v":-0.061},{"s":2,"t":1146,"v":-0.023},{"s":2,"t":1152,"v":-0.114},{"s":2,"t":1160,"v":-0.106},{"s":2,"t":1165,"v":-0.061},{"s":2,"t":1170,"v":0.008},{"s":2,"t":1176,"v":-0.076},{"s":2,"t":1184,"v":-0.061},{"s":2,"t":1192,"v":-0.076},{"s":2,"t":1200,"v":-0.053},{"s":2,"t":1208,"v":-0.076},{"s":2,"t":1216,"v":-0.061},{"s":2,"t":1224,"v":-0.083},{"s":2,"t":1232,"v":-0.098},{"s":2,"t":1237,"v":-0.16},{"s":2,"t":1242,"v":-0.174},{"s":2,"t":1248,"v":-0.061},{"s":2,"t":1253,"v":-0.045},{"s":2,"t":1258,"v":-0.091},{"s":2,"t":1266,"v":-0.061},{"s":2,"t":1272,"v":-0.098},{"s":2,"t":1277,"v":-0.068},{"s":2,"t":1282,"v":-0.091},{"s":2,"t":1288,"v":-0.038},{"s":2,"t":1293,"v":-0.114},{"s":2,"t":1297,"v":-0.212},{"s":2,"t":1301,"v":-0.28},{"s":2,"t":1306,"v":-0.311},{"s":2,"t":1309,"v":-0.364},{"s":2,"t":1312,"v":-0.295},{"s":2,"t":1317,"v":-0.333},{"s":2,"t":1322,"v":-0.25},{"s":2,"t":1328,"v":-0.121},{"s":2,"t":1331,"v":-0.295},{"s":2,"t":1335,"v":-0.242},{"s":2,"t":1340,"v":-0.318},{"s":2,"t":1344,"v":-0.439},{"s":2,"t":1348,"v":-0.265},{"s":2,"t":1352,"v":-0.16},{"s":2,"t":1355,"v":-0.106},{"s":2,"t":1360,"v":-0.22},{"s":2,"t":1365,"v":-0.25},{"s":2,"t":1369,"v":-0.144},{"s":2,"t":1374,"v":-0.265},{"s":2,"t":1378,"v":-0.174},{"s":2,"t":1384,"v":-0.144},{"s":2,"t":1389,"v":-0.212},{"s":2,"t":1393,"v":-0.265},{"s":2,"t":1398,"v":-0.197},{"s":2,"t":1403,"v":-0.318},{"s":2,"t":1407,"v":-0.19},{"s":2,"t":1412,"v":-0.167},{"s":2,"t":1416,"v":-0.091},{"s":2,"t":1420,"v":-0.22},{"s":2,"t":1426,"v":-0.083},{"s":2,"t":1432,"v":-0.098},{"s":2,"t":1437,"v":-0.091},{"s":2,"t":1441,"v":-0.136},{"s":2,"t":1446,"v":-0.15},{"s":2,"t":1452,"v":-0.167}
],
"tp": [
{"s":1,"t":-48,"v":11.2},{"s":1,"t":-34,"v":11.0},{"s":1,"t":-24,"v":9.4},{"s":1,"t":-10,"v":8.7},{"s":1,"t":3,"v":7.8},{"s":1,"t":30,"v":6.6},{"s":1,"t":56,"v":5.7},{"s":1,"t":88,"v":5.2},{"s":1,"t":115,"v":5.05},{"s":1,"t":128,"v":4.9},{"s":1,"t":142,"v":5.4},{"s":1,"t":168,"v":6.6},{"s":1,"t":195,"v":8.0},{"s":1,"t":216,"v":9.1},{"s":1,"t":230,"v":10.1},{"s":1,"t":231,"v":10.5},
{"s":2,"t":272,"v":11.4},{"s":2,"t":291,"v":11.7},{"s":2,"t":302,"v":11.5},{"s":2,"t":318,"v":11.0},{"s":2,"t":339,"v":9.7},{"s":2,"t":360,"v":8.0},{"s":2,"t":382,"v":7.0},{"s":2,"t":408,"v":6.0},{"s":2,"t":435,"v":5.5},{"s":2,"t":451,"v":5.3},{"s":2,"t":472,"v":5.1},{"s":2,"t":498,"v":5.15},{"s":2,"t":525,"v":5.9},{"s":2,"t":552,"v":7.0},{"s":2,"t":578,"v":8.4},{"s":2,"t":605,"v":9.7},{"s":2,"t":632,"v":11.0},{"s":2,"t":658,"v":11.7},{"s":2,"t":674,"v":11.5},{"s":2,"t":690,"v":11.2},{"s":2,"t":706,"v":9.6},{"s":2,"t":722,"v":8.6},{"s":2,"t":738,"v":7.5},{"s":2,"t":765,"v":6.2},{"s":2,"t":792,"v":5.5},{"s":2,"t":818,"v":5.0},{"s":2,"t":850,"v":4.5},{"s":2,"t":872,"v":4.9},{"s":2,"t":898,"v":5.9},{"s":2,"t":925,"v":7.5},{"s":2,"t":952,"v":9.2},{"s":2,"t":978,"v":10.3},{"s":2,"t":1005,"v":11.2},{"s":2,"t":1025,"v":11.6},{"s":2,"t":1048,"v":11.0},{"s":2,"t":1069,"v":9.7},{"s":2,"t":1090,"v":8.4},{"s":2,"t":1112,"v":7.1},{"s":2,"t":1138,"v":6.0},{"s":2,"t":1165,"v":5.5},{"s":2,"t":1192,"v":5.2},{"s":2,"t":1218,"v":4.8},{"s":2,"t":1232,"v":4.7},{"s":2,"t":1245,"v":5.2},{"s":2,"t":1272,"v":6.4},{"s":2,"t":1298,"v":7.8},{"s":2,"t":1325,"v":9.6},{"s":2,"t":1352,"v":10.8},{"s":2,"t":1378,"v":11.5},{"s":2,"t":1405,"v":11.5},{"s":2,"t":1421,"v":11.3},{"s":2,"t":1432,"v":10.3},{"s":2,"t":1442,"v":9.6},{"s":2,"t":1453,"v":8.9}
],
"yr": [{"t":29},{"t":394},{"t":762},{"t":1128},{"t":1492}],
"band": [{"t":683,"t2":722}],
"la": [{"t":1542,"v":87,"lab":"a)"}],
"lb": [{"t":1542,"v":-0.59,"lab":"b)"}]
},
"spacing": 9,
"resolve": {"scale": {"color": "independent", "y": "independent"}, "legend": {"color": "independent"}},
"vconcat": [
{
  "width": 1057, "height": 190,
  "encoding": {"x": {"field": "t", "type": "quantitative", "scale": {"domain": [-125.6, 1566.4], "nice": false, "zero": false}, "axis": {"orient": "bottom", "values": [0,182,365,548,731,914,1097,1280,1462], "labels": false, "title": null}}},
  "layer": [
    {"layer": [
      {"data": {"name": "wt"},
       "transform": [{"window": [{"op": "lead", "field": "v", "as": "nx"}], "groupby": ["s"], "sort": [{"field": "t", "order": "ascending"}]}, {"filter": "isValid(datum.nx) && datum.v > datum.nx"}],
       "mark": {"type": "area", "color": "#000080", "opacity": 1},
       "encoding": {
         "y": {"field": "v", "type": "quantitative", "scale": {"domain": [-4.29, 24.8], "nice": false, "zero": false}, "axis": {"orient": "right", "values": [0,5,10,15,20], "labelOverlap": false, "titlePadding": 3, "title": ["Stream water", "temperature (°C)"], "titleAngle": 270, "titleBaseline": "bottom"}},
         "y2": {"field": "nx"},
         "detail": {"field": "s", "type": "nominal"}
       }},
      {"data": {"name": "wt"}, "mark": {"type": "line", "strokeWidth": 1},
       "encoding": {
         "y": {"field": "v", "type": "quantitative", "scale": {"domain": [-4.29, 24.8], "nice": false, "zero": false}, "axis": {"orient": "right", "values": [0,5,10,15,20], "labelOverlap": false, "titlePadding": 3, "title": ["Stream water", "temperature (°C)"], "titleAngle": 270, "titleBaseline": "bottom"}},
         "detail": {"field": "s", "type": "nominal"},
         "color": {"datum": "water temperature", "type": "nominal", "scale": {"range": ["#000080"]}, "legend": {"orient": "top-right", "title": null}}
       }}
    ]},
    {"layer": [
      {"data": {"name": "q"}, "mark": {"type": "line", "strokeWidth": 1.5},
       "encoding": {
         "y": {"field": "v", "type": "quantitative", "scale": {"domain": [-50.6, 1323], "nice": false, "zero": false}, "axis": {"orient": "left", "values": [0,200,400,600,800,1000,1200], "format": "d", "labelOverlap": false, "title": ["Outlet discharge", "(L/s))"]}},
         "detail": {"field": "s", "type": "nominal"},
         "color": {"datum": "discharge", "type": "nominal", "scale": {"range": ["#1e90ff"]}, "legend": {"orient": "top-left", "title": null}}
       }},
      {"data": {"name": "band"}, "mark": {"type": "rect", "color": "#a8494a", "opacity": 0.4},
       "encoding": {"x2": {"field": "t2"}, "y": {"datum": 0}, "y2": {"datum": 1250}}},
      {"data": {"name": "la"}, "mark": {"type": "text", "fontWeight": "bold", "fontSize": 15, "color": "#111", "align": "center", "baseline": "middle"},
       "encoding": {"y": {"field": "v", "type": "quantitative"}, "text": {"field": "lab"}}}
    ]},
    {"data": {"name": "yr"}, "mark": {"type": "rule", "color": "#777", "strokeDash": [4, 3], "strokeWidth": 1}, "encoding": {}}
  ],
  "resolve": {"scale": {"y": "independent", "color": "independent"}, "legend": {"color": "independent"}}
},
{
  "width": 1057, "height": 191,
  "encoding": {"x": {"field": "t", "type": "quantitative", "scale": {"domain": [-125.6, 1566.4], "nice": false, "zero": false}, "axis": {"orient": "bottom", "values": [0,182,365,548,731,914,1097,1280,1462], "labels": false, "title": null}}},
  "layer": [
    {"layer": [
      {"data": {"name": "wl"}, "mark": {"type": "line", "strokeWidth": 1.8},
       "encoding": {
         "y": {"field": "v", "type": "quantitative", "scale": {"domain": [-0.682, 0.186], "nice": false, "zero": false}, "axis": {"orient": "left", "values": [-0.6, -0.4, -0.2, 0], "format": ".1f", "labelOverlap": false, "title": ["Water table", "depth average (m)"]}},
         "detail": {"field": "s", "type": "nominal"},
         "color": {"datum": "water level", "type": "nominal", "scale": {"range": ["#0000ff"]}, "legend": {"orient": "top-left", "title": null}}
       }},
      {"data": {"name": "lb"}, "mark": {"type": "text", "fontWeight": "bold", "fontSize": 15, "color": "#111", "align": "center", "baseline": "middle"},
       "encoding": {"y": {"field": "v", "type": "quantitative"}, "text": {"field": "lab"}}}
    ]},
    {"data": {"name": "tp"}, "mark": {"type": "line", "strokeWidth": 1.3},
     "encoding": {
       "y": {"field": "v", "type": "quantitative", "scale": {"domain": [-0.1, 20.1], "nice": false, "zero": false}, "axis": {"orient": "right", "values": [0,5,10,15,20], "labelOverlap": false, "titlePadding": 3, "title": ["Peat water", "temperature (°C)"], "titleAngle": 270, "titleBaseline": "bottom"}},
       "detail": {"field": "s", "type": "nominal"},
       "color": {"datum": "temperature", "type": "nominal", "scale": {"range": ["#800080"]}, "legend": {"orient": "top-right", "title": null}}
     }},
    {"data": {"name": "band"}, "mark": {"type": "rect", "color": "#a8494a", "opacity": 0.4},
     "encoding": {"x2": {"field": "t2"}}},
    {"data": {"name": "yr"}, "mark": {"type": "rule", "color": "#777", "strokeDash": [4, 3], "strokeWidth": 1}, "encoding": {}}
  ],
  "resolve": {"scale": {"y": "independent", "color": "independent"}, "legend": {"color": "independent"}}
}
]
}
